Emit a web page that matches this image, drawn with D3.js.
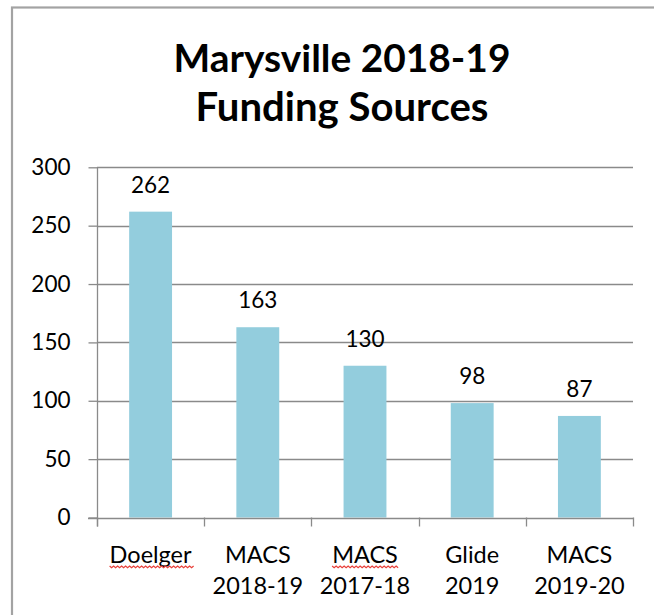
<!DOCTYPE html>
<html>
<head>
<meta charset="utf-8">
<script src="https://cdn.jsdelivr.net/npm/d3@7"></script>
<style>
  html, body { margin: 0; padding: 0; background: #fff; }
  svg { display: block; }
  text { font-family: Lato, "Open Sans", sans-serif; fill: #000; }
</style>
</head>
<body>
<svg id="chart" width="654" height="615"></svg>
<script>
// ---- data ----
const titleLines = ["Marysville 2018-19", "Funding Sources"];
const categories = [
  ["Doelger"],
  ["MACS", "2018-19"],
  ["MACS", "2017-18"],
  ["Glide", "2019"],
  ["MACS", "2019-20"]
];
const values = [262, 163, 130, 98, 87];
const yTicks = [0, 50, 100, 150, 200, 250, 300];
const spellFlagged = [[0, 0], [2, 0]]; // [category index, line index] with spell-check underline

// ---- layout ----
const W = 654, H = 615;
const plot = { left: 97, right: 633, top: 167.3, bottom: 517.5 };
const barColor = "#93cddd";
const gridColor = "#8a8a8a";

const svg = d3.select("#chart");

// outer chart border (clipped by the window at right/bottom)
svg.append("rect")
  .attr("x", 12).attr("y", 7.5)
  .attr("width", 700).attr("height", 700)
  .attr("fill", "none")
  .attr("stroke", "#a3a3a3")
  .attr("stroke-width", 2.2);

const keys = categories.map((c, i) => i);
const x = d3.scaleBand().domain(keys).range([plot.left, plot.right])
  .paddingInner(0.6).paddingOuter(0.3);
const xCat = d3.scaleBand().domain(keys).range([plot.left, plot.right]).padding(0);
const y = d3.scaleLinear().domain([0, 300]).range([plot.bottom, plot.top]);

// gridlines
svg.append("g").selectAll("line").data(yTicks.filter(t => t > 0)).join("line")
  .attr("x1", plot.left).attr("x2", plot.right)
  .attr("y1", d => Math.round(y(d)) + 0.5).attr("y2", d => Math.round(y(d)) + 0.5)
  .attr("stroke", gridColor).attr("stroke-width", 1.3);

// bars
svg.append("g").selectAll("rect").data(values).join("rect")
  .attr("x", (d, i) => x(i))
  .attr("width", x.bandwidth())
  .attr("y", d => y(d))
  .attr("height", d => y(0) - y(d))
  .attr("fill", barColor);

// y axis
const yAxis = d3.axisLeft(y).tickValues(yTicks).tickSize(9).tickPadding(18).tickFormat(d3.format("d"));
const gy = svg.append("g").attr("transform", `translate(${plot.left + 0.5},0)`).call(yAxis);
gy.select(".domain").attr("stroke", gridColor).attr("stroke-width", 1.3)
  .attr("d", `M0,${plot.top}V${plot.bottom + 9}`);
gy.selectAll(".tick line").attr("stroke", gridColor).attr("stroke-width", 1.3);
gy.selectAll(".tick text").attr("font-size", 22.5).attr("font-family", "Lato").attr("fill", "#000");

// x axis (ticks at category boundaries)
const boundaries = keys.map(i => xCat(i)).concat([plot.right]);
const gx = svg.append("g");
gx.append("line")
  .attr("x1", plot.left - 9).attr("x2", plot.right + 0.5)
  .attr("y1", Math.round(y(0)) + 0.5).attr("y2", Math.round(y(0)) + 0.5)
  .attr("stroke", gridColor).attr("stroke-width", 1.3);
gx.selectAll("line.tk").data(boundaries).join("line").attr("class", "tk")
  .attr("x1", d => Math.round(d) + 0.5).attr("x2", d => Math.round(d) + 0.5)
  .attr("y1", y(0)).attr("y2", y(0) + 9)
  .attr("stroke", gridColor).attr("stroke-width", 1.3);

// category labels
const catG = svg.append("g");
categories.forEach((lines, i) => {
  lines.forEach((ln, j) => {
    catG.append("text")
      .attr("class", `cat c${i}-${j}`)
      .attr("x", xCat(i) + xCat.bandwidth() / 2)
      .attr("y", 563 + j * 30.5)
      .attr("text-anchor", "middle")
      .attr("font-size", 23.5)
      .text(ln);
  });
});

// spell-check wavy underlines
spellFlagged.forEach(([i, j]) => {
  const node = catG.select(`.c${i}-${j}`).node();
  const bb = node.getBBox();
  const yy = 566;
  let dPath = `M${bb.x},${yy}`;
  for (let xx = bb.x, k = 0; xx < bb.x + bb.width; xx += 2, k++) {
    dPath += `L${xx + 2},${yy + (k % 2 === 0 ? 1.8 : 0)}`;
  }
  catG.append("path").attr("d", dPath).attr("fill", "none")
    .attr("stroke", "#e8403a").attr("stroke-width", 1.2);
});

// value labels
svg.append("g").selectAll("text").data(values).join("text")
  .attr("x", (d, i) => x(i) + x.bandwidth() / 2)
  .attr("y", d => y(d) - 19)
  .attr("text-anchor", "middle")
  .attr("font-size", 22.5)
  .text(d => d);

// title
const tg = svg.append("g");
const titleBase = [72, 121];
const titleWidths = [337, 293];
titleLines.forEach((t, i) => {
  const el = tg.append("text")
    .attr("x", 342).attr("y", titleBase[i])
    .attr("text-anchor", "middle")
    .attr("font-weight", "bold")
    .attr("font-size", 100)
    .text(t);
  const w = el.node().getComputedTextLength();
  el.attr("font-size", 100 * titleWidths[i] / w);
});
</script>
</body>
</html>
